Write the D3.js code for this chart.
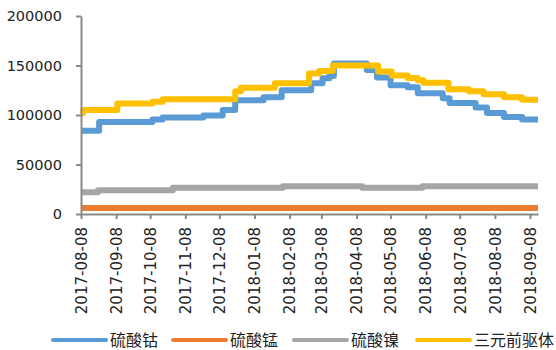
<!DOCTYPE html>
<html>
<head>
<meta charset="utf-8">
<script src="https://cdn.jsdelivr.net/npm/d3@7/dist/d3.min.js"></script>
<style>
  html, body { margin: 0; padding: 0; background: #fff; }
  svg { display: block; }
  text { font-family: "Noto Sans CJK SC", "Noto Sans", sans-serif; fill: #222; }
</style>
</head>
<body>
<svg id="chart" width="556" height="350"></svg>
<script>
// Price series (元/吨), recorded at each date the quoted price changed
const seriesNames = ["硫酸钴", "硫酸锰", "硫酸镍", "三元前驱体"];
const seriesColors = ["#5B9BD5", "#ED7D31", "#A5A5A5", "#FFC000"];

const cobaltDates = ["2017-08-08","2017-08-24","2017-10-10","2017-10-19","2017-11-24","2017-12-11","2017-12-22","2018-01-16","2018-02-01","2018-02-27","2018-03-09","2018-03-15","2018-03-19","2018-04-17","2018-04-26","2018-05-08","2018-05-23","2018-06-01","2018-06-23","2018-06-29","2018-07-22","2018-08-01","2018-08-16","2018-09-01","2018-09-15"];
const cobaltValues = [84000,93000,95500,97500,99500,105000,115000,118000,125000,132000,137000,139500,152000,145500,138000,130000,128000,122000,117000,112000,107500,102000,98000,95500,95500];

const manganeseDates = ["2017-08-08","2018-09-15"];
const manganeseValues = [6000,6000];

const nickelDates = ["2017-08-08","2017-08-23","2017-10-28","2018-02-02","2018-04-13","2018-06-05","2018-09-15"];
const nickelValues = [22000,24000,26500,28000,26500,28000,28000];

const precursorDates = ["2017-08-08","2017-08-10","2017-09-09","2017-10-10","2017-10-19","2017-12-22","2017-12-27","2018-01-26","2018-02-25","2018-03-06","2018-03-18","2018-04-27","2018-05-09","2018-05-23","2018-06-01","2018-06-06","2018-06-28","2018-07-16","2018-07-29","2018-08-16","2018-09-01","2018-09-15"];
const precursorValues = [102000,105000,111500,113500,116000,124000,127500,132000,142000,144500,150000,144000,140000,137500,135000,132500,126000,124000,121000,118000,115500,115500];

const xTickLabels = ["2017-08-08","2017-09-08","2017-10-08","2017-11-08","2017-12-08","2018-01-08","2018-02-08","2018-03-08","2018-04-08","2018-05-08","2018-06-08","2018-07-08","2018-08-08","2018-09-08"];
const yTickValues = [0, 50000, 100000, 150000, 200000];

const parse = d3.timeParse("%Y-%m-%d");
const allDates = [cobaltDates, manganeseDates, nickelDates, precursorDates];
const allValues = [cobaltValues, manganeseValues, nickelValues, precursorValues];
const series = seriesNames.map((name, i) => ({
  name,
  color: seriesColors[i],
  points: allDates[i].map((d, j) => ({ date: parse(d), value: allValues[i][j] }))
}));

const svg = d3.select("#chart");
const plotLeft = 81, plotRight = 538, plotTop = 16, plotBottom = 214;
const axisColor = "#898989";
const tickFont = "'DejaVu Sans', sans-serif";

const x = d3.scaleTime()
  .domain([parse("2017-08-08"), parse("2018-09-15")])
  .range([plotLeft, plotRight]);
const y = d3.scaleLinear()
  .domain([0, 200000])
  .range([plotBottom, plotTop]);

// Series lines, drawn as steps (price holds until the next change)
const line = d3.line()
  .x(d => x(d.date))
  .y(d => y(d.value))
  .curve(d3.curveStepAfter);

svg.append("g")
  .selectAll("path")
  .data(series)
  .join("path")
  .attr("d", d => line(d.points))
  .attr("fill", "none")
  .attr("stroke", d => d.color)
  .attr("stroke-width", 6)
  .attr("stroke-linejoin", "round");

// Y axis
const yAxis = svg.append("g")
  .attr("transform", `translate(${plotLeft},0)`)
  .call(d3.axisLeft(y).tickValues(yTickValues).tickFormat(d3.format("d")).tickSize(5).tickSizeOuter(0).tickPadding(14));
yAxis.select(".domain").attr("stroke", axisColor).attr("stroke-width", 2);
yAxis.selectAll(".tick line").attr("stroke", axisColor).attr("stroke-width", 2);
yAxis.selectAll(".tick text").attr("font-size", 14.5).attr("fill", "#222")
  .style("font-family", tickFont);

// X axis with rotated date labels
const xAxis = svg.append("g")
  .attr("transform", `translate(0,${plotBottom})`)
  .call(d3.axisBottom(x).tickValues(xTickLabels.map(parse)).tickFormat(d3.timeFormat("%Y-%m-%d")).tickSize(5).tickSizeOuter(0));
xAxis.select(".domain").attr("stroke", axisColor).attr("stroke-width", 2);
xAxis.selectAll(".tick line").attr("stroke", axisColor).attr("stroke-width", 2);
xAxis.selectAll(".tick text")
  .attr("font-size", 15)
  .attr("fill", "#222")
  .style("font-family", tickFont)
  .attr("text-anchor", "end")
  .attr("transform", "rotate(-90)")
  .attr("x", -13)
  .attr("y", 0)
  .attr("dy", "0.35em");

// Legend
const legendX = [53, 173, 294, 417];
const legend = svg.append("g")
  .selectAll("g")
  .data(series)
  .join("g")
  .attr("transform", (d, i) => `translate(${legendX[i]},340)`);
legend.append("line")
  .attr("x1", 0).attr("x2", 53)
  .attr("stroke", d => d.color)
  .attr("stroke-width", 4)
  .attr("stroke-linecap", "round");
legend.append("text")
  .attr("x", 57)
  .attr("dy", "0.35em")
  .attr("font-size", 16)
  .attr("fill", "#222")
  .text(d => d.name);
</script>
</body>
</html>
